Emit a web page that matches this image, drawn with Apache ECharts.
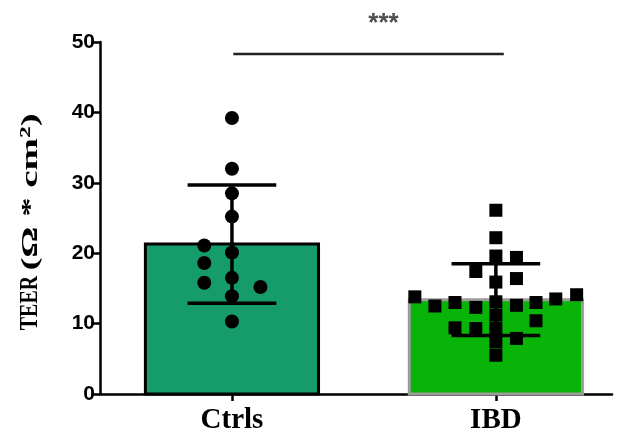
<!DOCTYPE html>
<html>
<head>
<meta charset="utf-8">
<script src="https://cdn.jsdelivr.net/npm/echarts@6/dist/echarts.min.js"></script>
<style>
  html, body { margin: 0; padding: 0; background: #fff; }
  #chart { width: 619px; height: 436px; }
</style>
</head>
<body>
<div id="chart"></div>
<script>
// Group labels
const categories = ['Ctrls', 'IBD'];

// Group summaries: mean and standard deviation of TEER
const groupMeans = [21.3, 13.4];
const groupSDs = [8.4, 5.1];

// Individual TEER measurements per group
const ctrlsValues = [39.2, 32.0, 28.5, 25.2, 21.1, 20.1, 18.6, 16.5, 15.8, 15.2, 13.9, 10.3];
const ibdValues = [26.1, 22.2, 19.6, 19.4, 17.4, 16.4, 15.9, 13.8, 12.5, 13.0, 12.3, 12.6,
                   13.0, 13.5, 14.1, 9.4, 9.3, 10.4, 7.9, 13.1, 11.2, 9.3, 7.4, 5.5];

// Horizontal scatter (in category units) so overlapping points stay visible
const ctrlsSpread = [0, 0, 0, 0, -0.105, 0, -0.105, 0, -0.105, 0.108, 0, 0];
const ibdSpread = [0, 0, 0, 0.078, -0.076, 0.078, 0, -0.307, -0.231, -0.155, -0.076, 0.078,
                   0.152, 0.227, 0.306, -0.155, -0.076, 0.152, 0.078, 0, 0, 0, 0, 0];

// Significance annotation
const sigLabel = '***';
const sigLevel = 48.3;

const yTicks = { min: 0, max: 50, step: 10 };

const chart = echarts.init(document.getElementById('chart'), null, { renderer: 'canvas' });

const barHalf = 0.328;
const capHalf = 0.168;
const barFill = ['#169b6b', '#07b407'];
const barEdge = ['#000000', '#9c9c9c'];

const summaryData = categories.map((c, i) => [i, groupMeans[i], groupSDs[i]]);
const ctrlsPoints = ctrlsValues.map((v, i) => [0 + ctrlsSpread[i], v]);
const ibdPoints = ibdValues.map((v, i) => [1 + ibdSpread[i], v]);

const titleFont = {
  fontFamily: 'Liberation Serif',
  fontWeight: 'bold',
  fill: '#000',
  align: 'center',
  verticalAlign: 'middle'
};

const option = {
  backgroundColor: '#ffffff',
  animation: false,
  grid: { left: 100, right: 7, top: 42, bottom: 42 },
  xAxis: {
    type: 'value',
    min: -0.5,
    max: 1.44,
    splitLine: { show: false },
    axisLine: { show: true, lineStyle: { color: '#000', width: 2.5 } },
    axisTick: { show: true, customValues: [0, 1], length: 7, lineStyle: { color: '#000', width: 2.5 } },
    axisLabel: {
      customValues: [0, 1],
      formatter: v => categories[Math.round(v)],
      fontFamily: 'Liberation Serif',
      fontWeight: 'bold',
      fontSize: 29,
      color: '#000',
      margin: 12
    }
  },
  yAxis: {
    type: 'value',
    min: yTicks.min,
    max: yTicks.max,
    interval: yTicks.step,
    splitLine: { show: false },
    axisLine: { show: true, onZero: false, lineStyle: { color: '#000', width: 2.5 } },
    axisTick: { show: true, length: 9, lineStyle: { color: '#000', width: 2.5 } },
    axisLabel: {
      fontFamily: 'Liberation Sans',
      fontWeight: 'bold',
      fontSize: 21,
      color: '#000',
      margin: 5
    }
  },
  graphic: [
    {
      type: 'text',
      x: 31,
      y: 303,
      rotation: Math.PI / 2,
      scaleX: 0.8,
      style: Object.assign({ text: 'TEER', fontSize: 25 }, titleFont)
    },
    {
      type: 'text',
      x: 31,
      y: 192,
      rotation: Math.PI / 2,
      scaleX: 1.62,
      style: Object.assign({ text: '(Ω * cm²)', fontSize: 24 }, titleFont)
    }
  ],
  series: [
    {
      // group mean bars
      type: 'custom',
      z: 1,
      data: summaryData,
      renderItem: (params, api) => {
        const i = api.value(0);
        const p1 = api.coord([i - barHalf, api.value(1)]);
        const p2 = api.coord([i + barHalf, 0]);
        return {
          type: 'rect',
          shape: { x: p1[0], y: p1[1], width: p2[0] - p1[0], height: p2[1] - p1[1] },
          style: { fill: barFill[i], stroke: barEdge[i], lineWidth: 3 }
        };
      }
    },
    {
      // mean ± SD error bars
      type: 'custom',
      z: 2,
      data: summaryData,
      renderItem: (params, api) => {
        const i = api.value(0);
        const m = api.value(1), s = api.value(2);
        const top = api.coord([i, m + s]);
        const bot = api.coord([i, m - s]);
        const tl = api.coord([i - capHalf, m + s]);
        const tr = api.coord([i + capHalf, m + s]);
        const bl = api.coord([i - capHalf, m - s]);
        const br = api.coord([i + capHalf, m - s]);
        const st = { stroke: '#000', lineWidth: 3.5 };
        return {
          type: 'group',
          children: [
            { type: 'line', shape: { x1: top[0], y1: top[1], x2: bot[0], y2: bot[1] }, style: st },
            { type: 'line', shape: { x1: tl[0], y1: tl[1], x2: tr[0], y2: tr[1] }, style: st },
            { type: 'line', shape: { x1: bl[0], y1: bl[1], x2: br[0], y2: br[1] }, style: st }
          ]
        };
      }
    },
    {
      type: 'scatter',
      z: 3,
      symbol: 'circle',
      symbolSize: 14,
      itemStyle: { color: '#000', opacity: 1 },
      data: ctrlsPoints
    },
    {
      type: 'scatter',
      z: 3,
      symbol: 'rect',
      symbolSize: 13,
      itemStyle: { color: '#000', opacity: 1 },
      data: ibdPoints
    },
    {
      // significance bracket
      type: 'line',
      z: 4,
      symbol: 'none',
      lineStyle: { color: '#222', width: 2.5 },
      data: [[0.005, sigLevel], [1.03, sigLevel]]
    },
    {
      type: 'scatter',
      z: 4,
      clip: false,
      symbolSize: 0,
      data: [[0.574, 52.6]],
      label: {
        show: true,
        position: 'inside',
        formatter: sigLabel,
        fontFamily: 'Liberation Sans',
        fontWeight: 'bold',
        fontSize: 26,
        color: '#222'
      }
    }
  ]
};

chart.setOption(option);
</script>
</body>
</html>
